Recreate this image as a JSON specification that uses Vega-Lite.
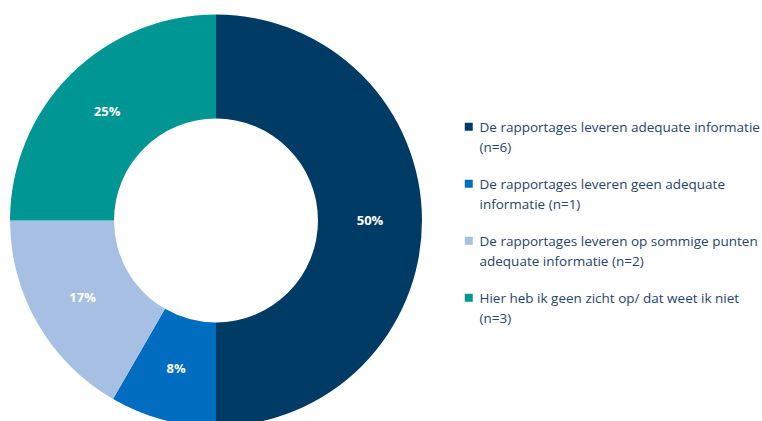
{
  "$schema": "https://vega.github.io/schema/vega-lite/v6.json",
  "width": 432,
  "height": 421,
  "padding": {"top": 10, "left": 0, "right": 0, "bottom": 0},
  "background": "white",
  "data": {
    "values": [
      {"cat": "De rapportages leveren adequate informatie|(n=6)", "n": 6, "pct": "50%", "ord": 1},
      {"cat": "De rapportages leveren geen adequate|informatie (n=1)", "n": 1, "pct": "8%", "ord": 2},
      {"cat": "De rapportages leveren op sommige punten|adequate informatie (n=2)", "n": 2, "pct": "17%", "ord": 3},
      {"cat": "Hier heb ik geen zicht op/ dat weet ik niet|(n=3)", "n": 3, "pct": "25%", "ord": 4}
    ]
  },
  "encoding": {
    "theta": {"field": "n", "type": "quantitative", "stack": true},
    "order": {"field": "ord", "type": "quantitative"}
  },
  "layer": [
    {
      "mark": {"type": "arc", "outerRadius": 206, "innerRadius": 102},
      "encoding": {
        "color": {
          "field": "cat",
          "type": "nominal",
          "sort": null,
          "scale": {
            "domain": [
              "De rapportages leveren adequate informatie|(n=6)",
              "De rapportages leveren geen adequate|informatie (n=1)",
              "De rapportages leveren op sommige punten|adequate informatie (n=2)",
              "Hier heb ik geen zicht op/ dat weet ik niet|(n=3)"
            ],
            "range": ["#003B66", "#006DC0", "#A6BFE2", "#009694"]
          },
          "legend": {
            "title": null,
            "orient": "none",
            "legendX": 462,
            "legendY": 110,
            "symbolType": "square",
            "symbolSize": 64,
            "symbolOpacity": 1,
            "symbolStrokeWidth": 0,
            "labelExpr": "split(datum.label, '|')",
            "labelFont": "Open Sans",
            "labelFontSize": 13.5,
            "labelColor": "#26456E",
            "labelLimit": 400,
            "labelOffset": 4,
            "rowPadding": 22,
            "labelBaseline": "top",
            "encode": {"labels": {"update": {"lineHeight": {"value": 20.5}, "dy": {"value": -6}}}}
          }
        }
      }
    },
    {
      "mark": {"type": "text", "radius": 154, "fontWeight": "bold", "fontSize": 13, "font": "Open Sans", "color": "white"},
      "encoding": {"text": {"field": "pct", "type": "nominal"}}
    }
  ],
  "config": {"view": {"stroke": null}}
}
